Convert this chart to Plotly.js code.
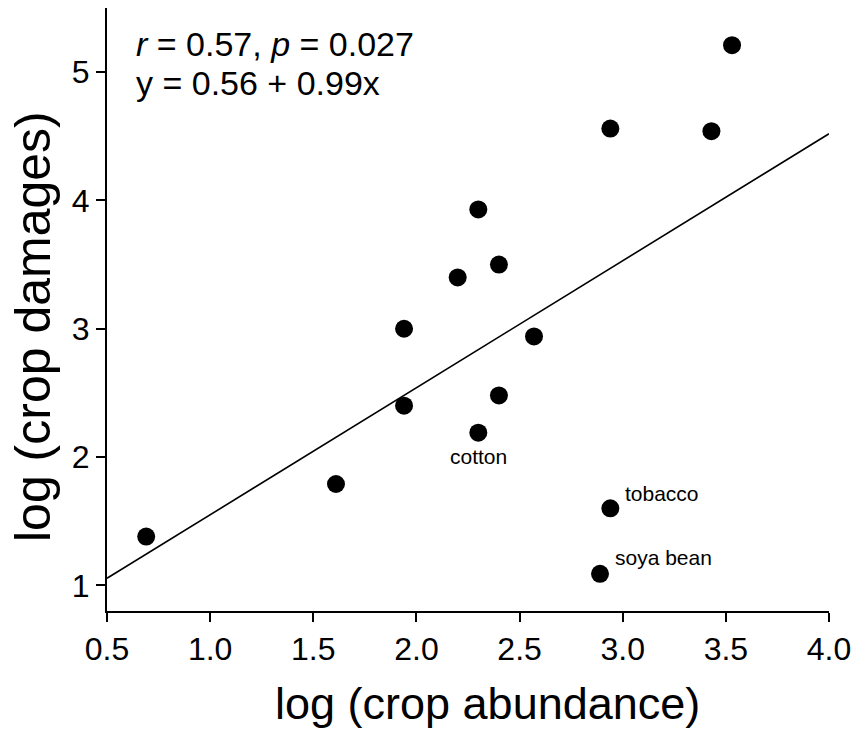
<!DOCTYPE html>
<html>
<head>
<meta charset="utf-8">
<script src="https://cdn.plot.ly/plotly-3.0.1.min.js"></script>
<style>
  html, body { margin: 0; padding: 0; background: #fff; }
  #chart { width: 854px; height: 731px; }
</style>
</head>
<body>
<div id="chart"></div>
<script>
// Data
var logAbundance = [0.69, 1.61, 1.94, 1.94, 2.20, 2.30, 2.40, 2.57, 2.40, 2.30, 2.94, 3.43, 3.53, 2.94, 2.89];
var logDamages   = [1.38, 1.79, 3.00, 2.40, 3.40, 3.93, 3.50, 2.94, 2.48, 2.19, 4.56, 4.54, 5.21, 1.60, 1.09];
var cropLabels   = ["", "", "", "", "", "", "", "", "", "cotton", "", "", "", "tobacco", "soya bean"];

// Regression line coefficients (y = a + b x)
var intercept = 0.56;
var slope = 0.99;
var lineX = [0.5, 4.0];

var statsLine1 = "<i>r</i> = 0.57, <i>p</i> = 0.027";
var statsLine2 = "y = 0.56 + 0.99x";
var xTitle = "log (crop abundance)";
var yTitle = "log (crop damages)";

var xTicks = [0.5, 1.0, 1.5, 2.0, 2.5, 3.0, 3.5, 4.0];
var xTickText = ["0.5", "1.0", "1.5", "2.0", "2.5", "3.0", "3.5", "4.0"];
var yTicks = [1, 2, 3, 4, 5];

var FONT = "Arial, 'Liberation Sans', sans-serif";

var lineY = lineX.map(function (x) { return intercept + slope * x; });

var traces = [
  {
    x: lineX, y: lineY, type: "scatter", mode: "lines",
    line: { color: "#000", width: 1.6 }, hoverinfo: "skip"
  },
  {
    x: logAbundance, y: logDamages, type: "scatter", mode: "markers",
    marker: { color: "#000", size: 18 }
  }
];

// label placements (style only)
var labelStyle = {
  "cotton":    { xanchor: "center", yanchor: "middle", xshift: 0,  yshift: -24 },
  "tobacco":   { xanchor: "left",   yanchor: "middle", xshift: 13, yshift: 15 },
  "soya bean": { xanchor: "left",   yanchor: "middle", xshift: 13, yshift: 16 }
};

var annotations = [];
cropLabels.forEach(function (lab, i) {
  if (!lab) return;
  var s = labelStyle[lab];
  annotations.push({
    x: logAbundance[i], y: logDamages[i], xref: "x", yref: "y",
    text: lab, showarrow: false,
    xanchor: s.xanchor, yanchor: s.yanchor, xshift: s.xshift, yshift: s.yshift,
    font: { family: FONT, size: 21, color: "#000" }
  });
});
annotations.push({
  xref: "paper", yref: "paper", x: 0.038, y: 0.941, xanchor: "left", yanchor: "middle",
  text: statsLine1, showarrow: false,
  font: { family: FONT, size: 34, color: "#000" }
});
annotations.push({
  xref: "paper", yref: "paper", x: 0.038, y: 0.876, xanchor: "left", yanchor: "middle",
  text: statsLine2, showarrow: false,
  font: { family: FONT, size: 34, color: "#000" }
});
// axis titles
annotations.push({
  xref: "paper", yref: "paper", x: 0.527, y: -0.153, xanchor: "center", yanchor: "middle",
  text: xTitle, showarrow: false,
  font: { family: FONT, size: 45, color: "#000" }
});
annotations.push({
  xref: "paper", yref: "paper", x: -0.1025, y: 0.4726, xanchor: "center", yanchor: "middle",
  text: yTitle, showarrow: false, textangle: -90,
  font: { family: FONT, size: 50, color: "#000" }
});

var layout = {
  width: 854, height: 731,
  margin: { l: 107, r: 25, t: 8, b: 120 },
  paper_bgcolor: "#fff", plot_bgcolor: "#fff",
  showlegend: false,
  font: { family: FONT, color: "#000" },
  xaxis: {
    range: [0.5, 4.0], tickvals: xTicks, ticktext: xTickText,
    showgrid: false, zeroline: false,
    showline: true, linecolor: "#000", linewidth: 2,
    ticks: "outside", ticklen: 9, tickwidth: 2, tickcolor: "#000",
    tickfont: { family: FONT, size: 32, color: "#000" },
    automargin: false
  },
  yaxis: {
    range: [0.8, 5.5], tickvals: yTicks,
    showgrid: false, zeroline: false,
    showline: true, linecolor: "#000", linewidth: 2,
    ticks: "outside", ticklen: 9, tickwidth: 2, tickcolor: "#000",
    tickfont: { family: FONT, size: 32, color: "#000" },
    automargin: false
  },
  annotations: annotations
};

Plotly.newPlot("chart", traces, layout, { staticPlot: true, displayModeBar: false });
</script>
</body>
</html>
